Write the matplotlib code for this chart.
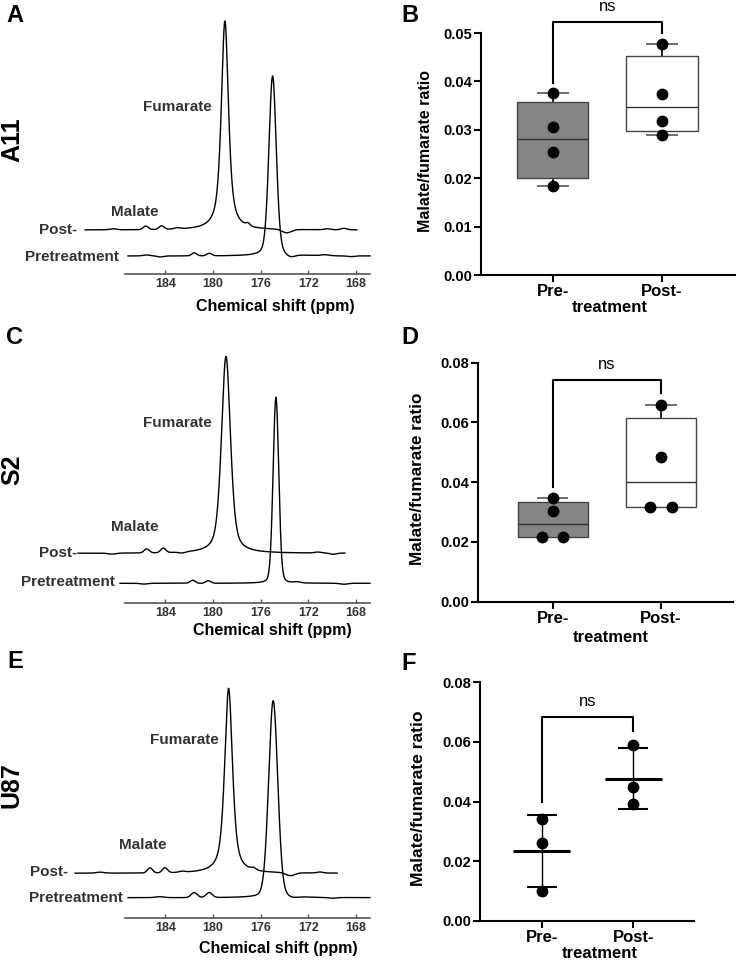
import numpy as np
import matplotlib.pyplot as plt

plt.rcParams['font.family'] = ['Liberation Sans', 'DejaVu Sans']

# ---- spectra: peaks as (ppm, height, fwhm, lorentz fraction), height in a.u.
a11_pre_range = (187.15, 166.8)
a11_pre_peaks = [(174.99, 180, 0.73, 0.25), (181.58, 3.0, 0.5, 0.0), (180.32, 2.5, 0.5, 0.0),
                 (173.5, -3.0, 0.9, 0.0), (185.6, 1.0, 0.7, 0.0), (184.4, -1.0, 0.6, 0.0),
                 (170.6, 1.0, 0.8, 0.0), (168.4, -0.8, 0.7, 0.0)]
a11_post_range = (190.76, 167.9)
a11_post_peaks = [(179.0, 209, 0.72, 0.7), (185.66, 3.5, 0.5, 0.0), (184.32, 3.5, 0.5, 0.0),
                  (177.06, 2.5, 0.4, 0.0), (173.8, -3.5, 0.9, 0.0), (188.4, 1.0, 0.7, 0.0),
                  (183.0, 1.2, 0.6, 0.0), (169.0, 1.5, 0.6, 0.0), (170.4, 1.0, 0.6, 0.0)]

s2_pre_range = (187.82, 166.8)
s2_pre_peaks = [(174.71, 186, 0.56, 0.15), (181.71, 3.0, 0.5, 0.0), (180.4, 2.5, 0.5, 0.0),
                (172.9, 1.0, 0.6, 0.0), (169.0, -1.0, 0.8, 0.0), (185.8, -0.8, 0.7, 0.0)]
s2_post_range = (191.35, 168.91)
s2_post_peaks = [(178.91, 197, 0.9, 0.5), (185.58, 4.0, 0.5, 0.0), (184.18, 4.5, 0.5, 0.0),
                 (182.6, -1.2, 0.6, 0.0), (188.5, -1.0, 0.8, 0.0), (171.2, 1.0, 0.6, 0.0),
                 (169.9, -1.2, 0.6, 0.0)]

u87_pre_range = (187.15, 166.8)
u87_pre_peaks = [(174.94, 197, 0.9, 0.15), (181.58, 5.0, 0.6, 0.0), (180.32, 5.0, 0.6, 0.0),
                 (173.3, -1.5, 0.9, 0.0), (184.5, 1.0, 0.8, 0.0), (170.0, -0.8, 0.8, 0.0)]
u87_post_range = (191.6, 169.56)
u87_post_peaks = [(178.69, 185, 0.78, 0.65), (185.3, 5.0, 0.5, 0.0), (184.04, 5.0, 0.5, 0.0),
                  (176.6, 2.0, 0.5, 0.0), (173.5, -3.0, 0.9, 0.0), (182.6, 1.0, 0.6, 0.0),
                  (189.5, 1.0, 0.8, 0.0), (171.0, 1.0, 0.6, 0.0)]

ppm_ticks = [184, 180, 176, 172, 168]

# ---- malate/fumarate ratios
groups = ["Pre-", "Post-"]
a11_pre = [0.0183, 0.0255, 0.0305, 0.0376]
a11_post = [0.0290, 0.0318, 0.0375, 0.0477]
s2_pre = [0.0215, 0.0217, 0.0302, 0.0346]
s2_post = [0.0316, 0.0318, 0.0485, 0.0658]
u87_pre = [0.0101, 0.0260, 0.0340]
u87_post = [0.0390, 0.0450, 0.0590]

W, H = 737, 963
fig = plt.figure(figsize=(W / 100, H / 100), dpi=100)


def px_axes(l, t, r, b):
    return fig.add_axes([l / W, 1 - b / H, (r - l) / W, (b - t) / H])


def px_text(x, y, s, **kw):
    fig.text(x / W, 1 - y / H, s, **kw)


def spectrum(x, peaks):
    y = np.zeros_like(x)
    for c, h, w, eta in peaks:
        d = (x - c) / (w / 2)
        y += h * (eta / (1 + d ** 2) + (1 - eta) * np.exp(-np.log(2) * d ** 2))
    return y


def spectrum_panel(top, bottom, traces):
    ax = px_axes(125, top, 370, bottom)
    ax.set_xlim(187.4, 166.8)
    ax.set_ylim(0, bottom - top)
    for rng, peaks, off in traces:
        x = np.linspace(rng[0], rng[1], 2000)
        ax.plot(x, off + spectrum(x, peaks), color="black", lw=1.0, clip_on=False)
    for s in ["left", "top", "right"]:
        ax.spines[s].set_visible(False)
    ax.spines["bottom"].set_color("#555555")
    ax.spines["bottom"].set_linewidth(1.2)
    ax.set_yticks([])
    ax.set_xticks(ppm_ticks)
    ax.tick_params(axis="x", direction="in", length=3, width=1, colors="#555555",
                   labelcolor="#333333", labelsize=9, pad=3)
    for lbl in ax.get_xticklabels():
        lbl.set_fontweight("bold")
    return ax


lab = dict(fontsize=11, fontweight="bold", color="#333333", va="center")

# A
spectrum_panel(15, 274, [(a11_pre_range, a11_pre_peaks, 18), (a11_post_range, a11_post_peaks, 44)])
px_text(177, 107, "Fumarate", ha="center", **lab)
px_text(135, 212, "Malate", ha="center", **lab)
px_text(77, 230, "Post-", ha="right", **lab)
px_text(119, 257, "Pretreatment", ha="right", **lab)
px_text(275, 307, "Chemical shift (ppm)", ha="center", va="center", fontsize=11.5, fontweight="bold")

# C
spectrum_panel(340, 602.7, [(s2_pre_range, s2_pre_peaks, 19.4), (s2_post_range, s2_post_peaks, 49.4)])
px_text(177, 423, "Fumarate", ha="center", **lab)
px_text(135, 527, "Malate", ha="center", **lab)
px_text(77, 553, "Post-", ha="right", **lab)
px_text(115, 582, "Pretreatment", ha="right", **lab)
px_text(272, 630, "Chemical shift (ppm)", ha="center", va="center", fontsize=11.5, fontweight="bold")

# E
spectrum_panel(660, 918, [(u87_pre_range, u87_pre_peaks, 20.3), (u87_post_range, u87_post_peaks, 44.7)])
px_text(184, 740, "Fumarate", ha="center", **lab)
px_text(143, 845, "Malate", ha="center", **lab)
px_text(68, 872, "Post-", ha="right", **lab)
px_text(123, 898, "Pretreatment", ha="right", **lab)
px_text(278, 948, "Chemical shift (ppm)", ha="center", va="center", fontsize=11.5, fontweight="bold")

# row names and panel letters
for y, s in [(140, "A11"), (470, "S2"), (785, "U87")]:
    px_text(12, y, s, rotation=90, ha="center", va="center", fontsize=18, fontweight="bold")
for x, y, s in [(6, 15, "A"), (401, 15, "B"), (6, 337, "C"), (401, 337, "D"), (7, 662, "E"), (401, 663, "F")]:
    px_text(x, y, s, ha="left", va="center", fontsize=17, fontweight="bold")


def spread(vals, tol):
    # side-by-side offsets for points that would overlap
    vals = np.asarray(vals)
    offs = np.zeros(len(vals))
    order = np.argsort(vals)
    i = 0
    while i < len(order):
        j = i
        while j + 1 < len(order) and vals[order[j + 1]] - vals[order[j]] < tol:
            j += 1
        n = j - i + 1
        if n > 1:
            for k in range(n):
                offs[order[i + k]] = (k - (n - 1) / 2) * 0.195
        i = j + 1
    return offs


def ratio_axes(l, top, r, b, xlim, ytop, yticks, ylabel_x, ylabel_size, treat_xy):
    ax = px_axes(l, top, r, b)
    ax.set_xlim(*xlim)
    ax.set_ylim(0, ytop)
    for s in ["top", "right"]:
        ax.spines[s].set_visible(False)
    for s in ["left", "bottom"]:
        ax.spines[s].set_linewidth(1.5)
    ax.set_yticks(yticks)
    ax.set_yticklabels([f"{v:.2f}" for v in yticks])
    ax.set_xticks([0, 1])
    ax.set_xticklabels(groups)
    ax.tick_params(axis="y", length=5, width=1.5, labelsize=10.5, pad=1.5)
    ax.tick_params(axis="x", length=5, width=1.5, labelsize=12, pad=1.5)
    for lbl in ax.get_yticklabels() + ax.get_xticklabels():
        lbl.set_fontweight("bold")
    px_text(ylabel_x, (top + b) / 2 - 3, "Malate/fumarate ratio", rotation=90, ha="center", va="center",
            fontsize=ylabel_size, fontweight="bold")
    px_text(treat_xy[0], treat_xy[1], "treatment", ha="center", va="center", fontsize=12, fontweight="bold")
    return ax


def bracket(ax, y_pre, y_top, y_post):
    ax.plot([0, 0, 1, 1], [y_pre, y_top, y_top, y_post], color="black", lw=1.5, clip_on=False)
    ax.annotate("ns", xy=(0.5, y_top), xytext=(0, 11), textcoords="offset points",
                ha="center", va="center", fontsize=12, annotation_clip=False)


def box_panel(ax, data, colors, tol):
    for i, (vals, fc) in enumerate(zip(data, colors)):
        q1, med, q3 = np.percentile(vals, [25, 50, 75], method="weibull")
        lo, hi = min(vals), max(vals)
        ax.vlines(i, q3, hi, color="black", lw=1.2, zorder=1)
        ax.vlines(i, lo, q1, color="black", lw=1.2, zorder=1)
        ax.hlines([lo, hi], i - 0.145, i + 0.145, color="#555555", lw=1.2, zorder=1)
        ax.bar(i, q3 - q1, bottom=q1, width=0.65, color=fc, edgecolor="#444444", lw=1.0, zorder=2)
        ax.hlines(med, i - 0.325, i + 0.325, color="#333333", lw=1.0, zorder=3)
        ax.plot(i + spread(vals, tol), vals, "o", color="black", ms=7.5, zorder=4, clip_on=False)


# B
axb = ratio_axes(481, 33, 735, 275, (-0.656, 1.668), 0.05, [0, 0.01, 0.02, 0.03, 0.04, 0.05],
                 426, 11.5, (610, 308))
box_panel(axb, [a11_pre, a11_post], ["#858585", "white"], 0.00225)
bracket(axb, 0.0397, 0.0523, 0.0499)

# D
axd = ratio_axes(478, 362.7, 733, 601.7, (-0.69, 1.665), 0.08, [0, 0.02, 0.04, 0.06, 0.08],
                 417, 12.3, (611, 637))
box_panel(axd, [s2_pre, s2_post], ["#858585", "white"], 0.0036)
bracket(axd, 0.0385, 0.0742, 0.0700)

# F
axf = ratio_axes(480, 682.3, 694, 920.7, (-0.674, 1.663), 0.08, [0, 0.02, 0.04, 0.06, 0.08],
                 418.5, 12.6, (600, 953))
for i, vals in enumerate([u87_pre, u87_post]):
    m, sd = np.mean(vals), np.std(vals, ddof=1)
    axf.vlines(i, m - sd, m + sd, color="black", lw=1.0, zorder=1)
    axf.hlines([m - sd, m + sd], i - 0.165, i + 0.165, color="black", lw=1.5, zorder=1)
    axf.hlines(m, i - 0.31, i + 0.31, color="black", lw=2.2, zorder=2)
    axf.plot(i + spread(vals, 0.0036), vals, "o", color="black", ms=7.5, zorder=3, clip_on=False)
bracket(axf, 0.0399, 0.0685, 0.0638)

fig.savefig("out.png", dpi=100)
